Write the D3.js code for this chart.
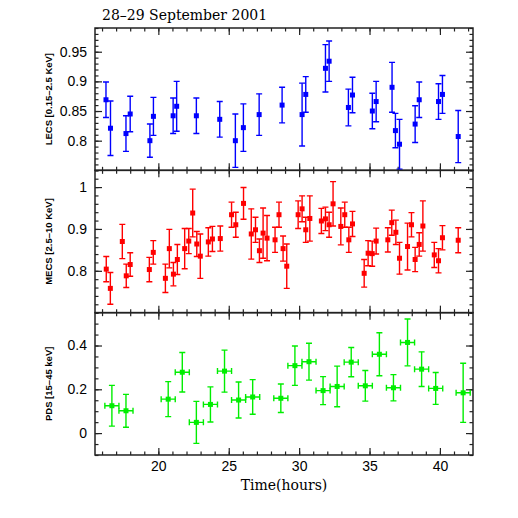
<!DOCTYPE html>
<html>
<head>
<meta charset="utf-8">
<script src="https://cdn.jsdelivr.net/npm/d3@7"></script>
<style>
  body { margin: 0; background: #fff; }
  .axis text { font-family: "Liberation Sans", Arial, sans-serif; font-size: 14px; fill: #000; }
  .axis line { stroke: #222; stroke-width: 1.2; }
  .axis path.domain { display: none; }
  .frame { fill: none; stroke: #222; stroke-width: 1.5; }
  .panel-label { font-family: "Liberation Sans", Arial, sans-serif; font-size: 9.5px; font-weight: bold; fill: #000; }
  .title, .x-label { font-family: "DejaVu Serif", serif; font-size: 14px; fill: #000; }
</style>
</head>
<body>
<div id="chart"></div>
<script>
// LECS 0.15-2.5 keV
const lecsTime = [16.28, 16.6, 17.7, 18.0, 19.4, 19.65, 21.05, 21.3, 22.7, 24.36, 25.47, 26.04, 27.16, 28.79, 30.21,
  30.47, 31.87, 32.13, 33.5, 33.79, 35.2, 35.47, 36.6, 36.84, 37.13, 38.24, 38.53, 39.9, 40.18, 41.3];
const lecsRate = [0.869, 0.821, 0.812, 0.845, 0.800, 0.841, 0.842, 0.858, 0.842, 0.836, 0.800, 0.822, 0.844, 0.860, 0.844,
  0.878, 0.922, 0.934, 0.856, 0.877, 0.850, 0.866, 0.890, 0.817, 0.794, 0.828, 0.869, 0.866, 0.878, 0.807];
const lecsErr = [0.030, 0.046, 0.030, 0.030, 0.028, 0.032, 0.030, 0.042, 0.030, 0.030, 0.045, 0.040, 0.035, 0.030, 0.053,
  0.030, 0.040, 0.034, 0.031, 0.030, 0.030, 0.034, 0.042, 0.029, 0.042, 0.031, 0.030, 0.030, 0.032, 0.044];

// MECS 2.5-10 keV
const mecsTime = [16.3, 16.59, 17.44, 17.72, 18.0, 19.36, 19.64, 20.5, 20.78, 21.07, 21.35, 21.87, 22.16, 22.44, 22.73,
  22.98, 23.55, 23.84, 24.4, 25.2, 25.5, 26.05, 26.6, 26.9, 27.18, 27.44, 27.72, 28.29, 28.57, 28.86,
  29.12, 29.93, 30.21, 30.47, 30.76, 31.58, 31.87, 32.13, 32.41, 32.96, 33.24, 33.53, 33.79, 34.62, 34.9,
  35.19, 35.47, 36.3, 36.58, 36.87, 37.13, 37.7, 37.98, 38.24, 38.53, 38.79, 39.6, 39.9, 40.18, 41.3];
const mecsRate = [0.804, 0.758, 0.870, 0.788, 0.815, 0.803, 0.844, 0.782, 0.853, 0.792, 0.827, 0.853, 0.871, 0.938, 0.864,
  0.835, 0.869, 0.876, 0.877, 0.934, 0.910, 0.961, 0.888, 0.898, 0.848, 0.890, 0.878, 0.874, 0.934, 0.853,
  0.811, 0.934, 0.948, 0.898, 0.925, 0.919, 0.924, 0.910, 0.960, 0.906, 0.934, 0.874, 0.912, 0.794, 0.842,
  0.841, 0.871, 0.874, 0.915, 0.892, 0.830, 0.858, 0.910, 0.827, 0.863, 0.907, 0.838, 0.824, 0.879, 0.873];
const mecsErr = [0.030, 0.038, 0.041, 0.028, 0.028, 0.029, 0.028, 0.034, 0.046, 0.028, 0.036, 0.048, 0.030, 0.057, 0.030,
  0.053, 0.034, 0.030, 0.030, 0.030, 0.030, 0.038, 0.060, 0.030, 0.028, 0.060, 0.054, 0.030, 0.030, 0.030,
  0.053, 0.033, 0.031, 0.030, 0.054, 0.030, 0.028, 0.030, 0.053, 0.044, 0.030, 0.030, 0.030, 0.033, 0.030,
  0.030, 0.031, 0.029, 0.030, 0.029, 0.038, 0.056, 0.029, 0.029, 0.028, 0.060, 0.030, 0.029, 0.029, 0.030];

// PDS 15-45 keV (1 hour bins)
const pdsTime = [16.7, 17.7, 20.7, 21.7, 22.7, 23.7, 24.7, 25.7, 26.7, 28.7, 29.7, 30.7, 31.7, 32.7, 33.7,
  34.7, 35.7, 36.7, 37.7, 38.7, 39.7, 41.65];
const pdsRate = [0.125, 0.102, 0.155, 0.278, 0.049, 0.131, 0.283, 0.151, 0.165, 0.159, 0.308, 0.326, 0.194, 0.213, 0.324,
  0.216, 0.360, 0.207, 0.414, 0.292, 0.204, 0.184];
const pdsErr = [0.093, 0.075, 0.080, 0.090, 0.096, 0.080, 0.096, 0.082, 0.079, 0.065, 0.090, 0.084, 0.064, 0.093, 0.067,
  0.070, 0.098, 0.060, 0.107, 0.079, 0.073, 0.135];
const pdsTimeErr = 0.5;

// axis ticks
const timeTicks = [20, 25, 30, 35, 40];
const lecsTicks = [0.8, 0.85, 0.9, 0.95];
const mecsTicks = [0.8, 0.9, 1];
const pdsTicks = [0, 0.2, 0.4];

const margin = { top: 28, left: 95 };
const width = 378;
const panelHeight = 142.33;

const svg = d3.select("#chart").append("svg")
  .attr("width", 518)
  .attr("height", 518);

const xScale = d3.scaleLinear().domain([15.5, 42.35]).range([0, width]);
const xMinor = d3.range(16, 43, 1);

function drawPanel(opts) {
  const top = margin.top + opts.index * panelHeight;
  const g = svg.append("g").attr("transform", `translate(${margin.left},${top})`);
  const yScale = d3.scaleLinear().domain(opts.domain).range([panelHeight, 0]);
  const yMinor = d3.range(opts.domain[0], opts.domain[1] + 1e-9, opts.minorStep).map(v => +v.toFixed(4));

  const clipId = `clip-${opts.index}`;
  g.append("clipPath").attr("id", clipId)
    .append("rect").attr("width", width).attr("height", panelHeight);

  // tick marks on all four sides, pointing inward
  const major = 7, minor = 3.5;
  g.append("g").attr("class", "axis")
    .call(d3.axisLeft(yScale).tickValues(opts.ticks).tickSize(-major).tickPadding(8).tickFormat(d3.format("~g")));
  g.append("g").attr("class", "axis")
    .call(d3.axisLeft(yScale).tickValues(yMinor).tickSize(-minor).tickFormat(""));
  g.append("g").attr("class", "axis").attr("transform", `translate(${width},0)`)
    .call(d3.axisRight(yScale).tickValues(opts.ticks).tickSize(-major).tickFormat(""));
  g.append("g").attr("class", "axis").attr("transform", `translate(${width},0)`)
    .call(d3.axisRight(yScale).tickValues(yMinor).tickSize(-minor).tickFormat(""));
  g.append("g").attr("class", "axis")
    .call(d3.axisTop(xScale).tickValues(timeTicks).tickSize(-major).tickFormat(""));
  g.append("g").attr("class", "axis")
    .call(d3.axisTop(xScale).tickValues(xMinor).tickSize(-minor).tickFormat(""));
  g.append("g").attr("class", "axis").attr("transform", `translate(0,${panelHeight})`)
    .call(d3.axisBottom(xScale).tickValues(timeTicks).tickSize(-major).tickPadding(6)
      .tickFormat(opts.showTime ? d3.format("d") : ""));
  g.append("g").attr("class", "axis").attr("transform", `translate(0,${panelHeight})`)
    .call(d3.axisBottom(xScale).tickValues(xMinor).tickSize(-minor).tickFormat(""));

  g.append("rect").attr("class", "frame").attr("width", width).attr("height", panelHeight);

  const data = opts.time.map((t, i) => ({ t, v: opts.rate[i], e: opts.err[i] }));
  const marks = g.append("g").attr("clip-path", `url(#${clipId})`)
    .attr("stroke", opts.color).attr("stroke-width", 1.4).attr("fill", "none");
  const cap = 3;

  const pts = marks.selectAll(".pt").data(data).join("g").attr("class", "pt");
  pts.append("line")
    .attr("x1", d => xScale(d.t)).attr("x2", d => xScale(d.t))
    .attr("y1", d => yScale(d.v - d.e)).attr("y2", d => yScale(d.v + d.e));
  pts.append("line")
    .attr("x1", d => xScale(d.t) - cap).attr("x2", d => xScale(d.t) + cap)
    .attr("y1", d => yScale(d.v + d.e)).attr("y2", d => yScale(d.v + d.e));
  pts.append("line")
    .attr("x1", d => xScale(d.t) - cap).attr("x2", d => xScale(d.t) + cap)
    .attr("y1", d => yScale(d.v - d.e)).attr("y2", d => yScale(d.v - d.e));

  if (opts.timeErr) {
    pts.append("line")
      .attr("x1", d => xScale(d.t - opts.timeErr)).attr("x2", d => xScale(d.t + opts.timeErr))
      .attr("y1", d => yScale(d.v)).attr("y2", d => yScale(d.v));
    pts.append("line")
      .attr("x1", d => xScale(d.t - opts.timeErr)).attr("x2", d => xScale(d.t - opts.timeErr))
      .attr("y1", d => yScale(d.v) - cap).attr("y2", d => yScale(d.v) + cap);
    pts.append("line")
      .attr("x1", d => xScale(d.t + opts.timeErr)).attr("x2", d => xScale(d.t + opts.timeErr))
      .attr("y1", d => yScale(d.v) - cap).attr("y2", d => yScale(d.v) + cap);
  }

  pts.append("rect")
    .attr("x", d => xScale(d.t) - 2.5).attr("y", d => yScale(d.v) - 2.5)
    .attr("width", 5).attr("height", 5)
    .attr("fill", opts.color).attr("stroke", "none");

  // rotated y-axis label
  svg.append("text").attr("class", "panel-label")
    .attr("text-anchor", "middle")
    .attr("transform", `translate(52,${top + panelHeight / 2}) rotate(-90)`)
    .text(opts.label);
}

drawPanel({ index: 0, time: lecsTime, rate: lecsRate, err: lecsErr, domain: [0.75, 0.99],
  ticks: lecsTicks, minorStep: 0.01, color: "#0000ff", label: "LECS [0.15–2.5 KeV]" });
drawPanel({ index: 1, time: mecsTime, rate: mecsRate, err: mecsErr, domain: [0.70, 1.04],
  ticks: mecsTicks, minorStep: 0.02, color: "#ff0000", label: "MECS [2.5–10 KeV]" });
drawPanel({ index: 2, time: pdsTime, rate: pdsRate, err: pdsErr, domain: [-0.1, 0.55],
  ticks: pdsTicks, minorStep: 0.05, color: "#00ee00", label: "PDS [15–45 keV]",
  timeErr: pdsTimeErr, showTime: true });

svg.append("text").attr("class", "title")
  .attr("x", 102).attr("y", 20)
  .text("28–29 September 2001");

svg.append("text").attr("class", "x-label")
  .attr("x", margin.left + width / 2).attr("y", 490)
  .attr("text-anchor", "middle")
  .text("Time(hours)");
</script>
</body>
</html>
